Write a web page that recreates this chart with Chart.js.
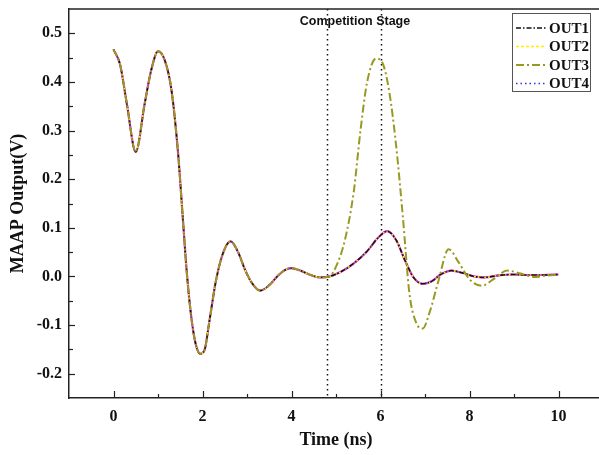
<!DOCTYPE html>
<html>
<head>
<meta charset="utf-8">
<script src="https://cdn.jsdelivr.net/npm/chart.js@4.4.1/dist/chart.umd.min.js"></script>
<style>
  html, body { margin: 0; padding: 0; background: #fff; overflow: hidden; }
  #wrap { width: 599px; height: 455px; position: relative; overflow: hidden; }
</style>
</head>
<body>
<div id="wrap"><canvas id="myChart" width="603" height="455"></canvas></div>
<script>
// time (ns) and output (V)
const timeCommon = [0, 0.15, 0.3, 0.5, 0.7, 0.85, 1.0, 1.15, 1.3, 1.45, 1.55, 1.65, 1.75, 1.85, 1.95, 2.05, 2.15, 2.3, 2.45, 2.63, 2.8, 2.95, 3.1, 3.3, 3.5, 3.7, 3.85, 4.0, 4.2, 4.4, 4.65, 4.85, 5.1, 5.4, 5.7, 5.95, 6.15, 6.35, 6.55, 6.75, 6.95, 7.15, 7.35, 7.6, 7.85, 8.1, 8.35, 8.65, 8.95, 9.3, 9.65, 10.0]
const outCommon = [0.467, 0.435, 0.355, 0.256, 0.355, 0.425, 0.463, 0.445, 0.385, 0.255, 0.13, 0.005, -0.085, -0.14, -0.159, -0.15, -0.095, -0.01, 0.045, 0.072, 0.05, 0.015, -0.012, -0.029, -0.018, 0.002, 0.013, 0.017, 0.012, 0.004, -0.002, 0.0, 0.009, 0.027, 0.052, 0.08, 0.093, 0.075, 0.033, -0.003, -0.015, -0.01, 0.004, 0.012, 0.007, 0.0, -0.002, 0.002, 0.004, 0.003, 0.003, 0.004]

const timeOut3 = [0, 0.15, 0.3, 0.5, 0.7, 0.85, 1.0, 1.15, 1.3, 1.45, 1.55, 1.65, 1.75, 1.85, 1.95, 2.05, 2.15, 2.3, 2.45, 2.63, 2.8, 2.95, 3.1, 3.3, 3.5, 3.7, 3.85, 4.0, 4.2, 4.4, 4.65, 4.85, 5.0, 5.2, 5.4, 5.55, 5.7, 5.9, 6.05, 6.2, 6.35, 6.5, 6.65, 6.8, 6.95, 7.1, 7.3, 7.53, 7.75, 8.0, 8.28, 8.55, 8.85, 9.15, 9.45, 9.75, 10.0]
const out3 = [0.467, 0.435, 0.355, 0.256, 0.355, 0.425, 0.463, 0.445, 0.385, 0.255, 0.13, 0.005, -0.085, -0.14, -0.159, -0.15, -0.095, -0.01, 0.045, 0.072, 0.05, 0.015, -0.012, -0.029, -0.018, 0.002, 0.013, 0.017, 0.012, 0.004, -0.002, 0.0, 0.02, 0.075, 0.175, 0.3, 0.4, 0.448, 0.438, 0.378, 0.27, 0.125, -0.035, -0.095, -0.107, -0.075, -0.01, 0.056, 0.03, -0.006, -0.019, -0.005, 0.012, 0.006, -0.001, 0.002, 0.003]

const stageLines = [4.8, 6.0]
const stageText = "Competition Stage"
const xLabels = [0, 2, 4, 6, 8, 10]

function pts(t, v){
  return t.map(function(x, i){ return {x: x, y: v[i]} })
}

const serifBold = "bold 15px 'Liberation Serif', 'Times New Roman', serif"

// ticks inside the frame, top border, stage lines, legend
const extras = {
  id: "extras",
  beforeDatasetsDraw(chart){
    const ctx = chart.ctx
    const a = chart.chartArea
    const xs = chart.scales.x
    ctx.save()
    ctx.strokeStyle = "#111"
    ctx.lineWidth = 1.5
    ctx.setLineDash([1.5, 3.5])
    stageLines.forEach(function(v){
      const px = Math.round(xs.getPixelForValue(v)) + 0.5
      ctx.beginPath()
      ctx.moveTo(px, a.top)
      ctx.lineTo(px, a.bottom)
      ctx.stroke()
    })
    ctx.restore()
  },
  afterDraw(chart){
    const ctx = chart.ctx
    const a = chart.chartArea
    const xs = chart.scales.x
    const ys = chart.scales.y
    ctx.save()
    ctx.strokeStyle = "#222"
    ctx.lineWidth = 1.5
    ctx.beginPath()
    ctx.moveTo(a.left, a.top)
    ctx.lineTo(a.right + 2, a.top)
    ctx.stroke()

    ctx.lineWidth = 1.2
    xs.ticks.forEach(function(t){
      if(t.value <= xs.min || t.value >= xs.max) return
      const major = xLabels.indexOf(t.value) >= 0
      const px = Math.round(xs.getPixelForValue(t.value)) + 0.5
      ctx.beginPath()
      ctx.moveTo(px, a.bottom)
      ctx.lineTo(px, a.bottom - (major ? 7 : 4))
      ctx.stroke()
    })
    ys.ticks.forEach(function(t){
      if(t.value <= ys.min + 1e-6 || t.value >= ys.max - 1e-6) return
      const major = Math.abs(t.value * 10 - Math.round(t.value * 10)) < 1e-6
      const py = Math.round(ys.getPixelForValue(t.value)) + 0.5
      ctx.beginPath()
      ctx.moveTo(a.left, py)
      ctx.lineTo(a.left + (major ? 6 : 4), py)
      ctx.stroke()
    })

    // stage label
    ctx.fillStyle = "#111"
    ctx.font = "bold 12.5px 'Liberation Sans', Arial, sans-serif"
    ctx.textAlign = "center"
    ctx.textBaseline = "alphabetic"
    ctx.fillText(stageText, 355, 25)

    // legend
    const bx = 512, by = 13, bw = 78, bh = 78
    ctx.fillStyle = "#fff"
    ctx.fillRect(bx, by, bw, bh)
    ctx.strokeStyle = "#555"
    ctx.lineWidth = 1
    ctx.setLineDash([])
    ctx.strokeRect(bx + 0.5, by + 0.5, bw, bh)
    const shown = chart.data.datasets.filter(function(d){ return d.label })
    ctx.font = serifBold
    ctx.textAlign = "left"
    ctx.textBaseline = "middle"
    shown.forEach(function(d, i){
      const y = by + 15 + i * 18.5
      ctx.strokeStyle = d.borderColor
      ctx.lineWidth = d.borderWidth
      ctx.setLineDash(d.borderDash)
      ctx.beginPath()
      ctx.moveTo(bx + 4, y)
      ctx.lineTo(bx + 34, y)
      ctx.stroke()
      ctx.setLineDash([])
      ctx.fillStyle = "#111"
      ctx.fillText(d.label, bx + 37, y + 1)
    })
    ctx.restore()
  }
}

const lineBase = {pointRadius: 0, fill: false, cubicInterpolationMode: "monotone"}

new Chart("myChart", {
  type: "line",
  data: {
    datasets: [
      Object.assign({label: "OUT1", data: pts(timeCommon, outCommon), borderColor: "#111", borderWidth: 1.5, borderDash: [5, 2, 1.5, 2], order: 1}, lineBase),
      Object.assign({label: "OUT2", data: pts(timeCommon, outCommon), borderColor: "#ffee00", borderWidth: 1.5, borderDash: [3, 2], order: 2}, lineBase),
      Object.assign({label: "OUT3", data: pts(timeOut3, out3), borderColor: "#999922", borderWidth: 2, borderDash: [8, 3, 2, 3], order: 0}, lineBase),
      Object.assign({label: "OUT4", data: pts(timeCommon, outCommon), borderColor: "#3333cc", borderWidth: 1.5, borderDash: [1.5, 3], order: 3}, lineBase),
      Object.assign({label: "", data: pts(timeCommon, outCommon), borderColor: "#ee22ee", borderWidth: 2.2, borderDash: [], order: 4}, lineBase)
    ]
  },
  plugins: [extras],
  options: {
    responsive: false,
    animation: false,
    layout: {padding: {top: 9, right: 0, left: 4, bottom: 0}},
    plugins: {legend: {display: false}, tooltip: {enabled: false}},
    scales: {
      x: {
        type: "linear",
        min: -1,
        max: 11,
        afterFit: function(s){ s.height = 57; s.paddingLeft = 0; s.paddingRight = 0 },
        grid: {display: false, drawTicks: false},
        border: {display: true, color: "#222", width: 1.5},
        ticks: {
          stepSize: 1,
          autoSkip: false,
          maxRotation: 0,
          padding: 9,
          color: "#111",
          font: {family: "'Liberation Serif', serif", size: 16, weight: "bold"},
          callback: function(v){ return xLabels.indexOf(v) >= 0 ? String(v) : "" }
        },
        title: {display: true, text: "Time (ns)", color: "#111", padding: {top: 3},
          font: {family: "'Liberation Serif', serif", size: 18, weight: "bold"}}
      },
      y: {
        type: "linear",
        min: -0.25,
        max: 0.55,
        afterFit: function(s){ s.width = 65; s.paddingTop = 0; s.paddingBottom = 0 },
        grid: {display: false, drawTicks: false},
        border: {display: true, color: "#222", width: 1.5},
        ticks: {
          stepSize: 0.05,
          autoSkip: false,
          padding: 7,
          color: "#111",
          font: {family: "'Liberation Serif', serif", size: 16, weight: "bold"},
          callback: function(v){
            if(Math.abs(v * 10 - Math.round(v * 10)) > 1e-6) return ""
            return (Math.round(v * 10) / 10).toFixed(1)
          }
        },
        title: {display: true, text: "MAAP Output(V)", color: "#111", padding: {bottom: 2},
          font: {family: "'Liberation Serif', serif", size: 18, weight: "bold"}}
      }
    }
  }
})
</script>
</body>
</html>
